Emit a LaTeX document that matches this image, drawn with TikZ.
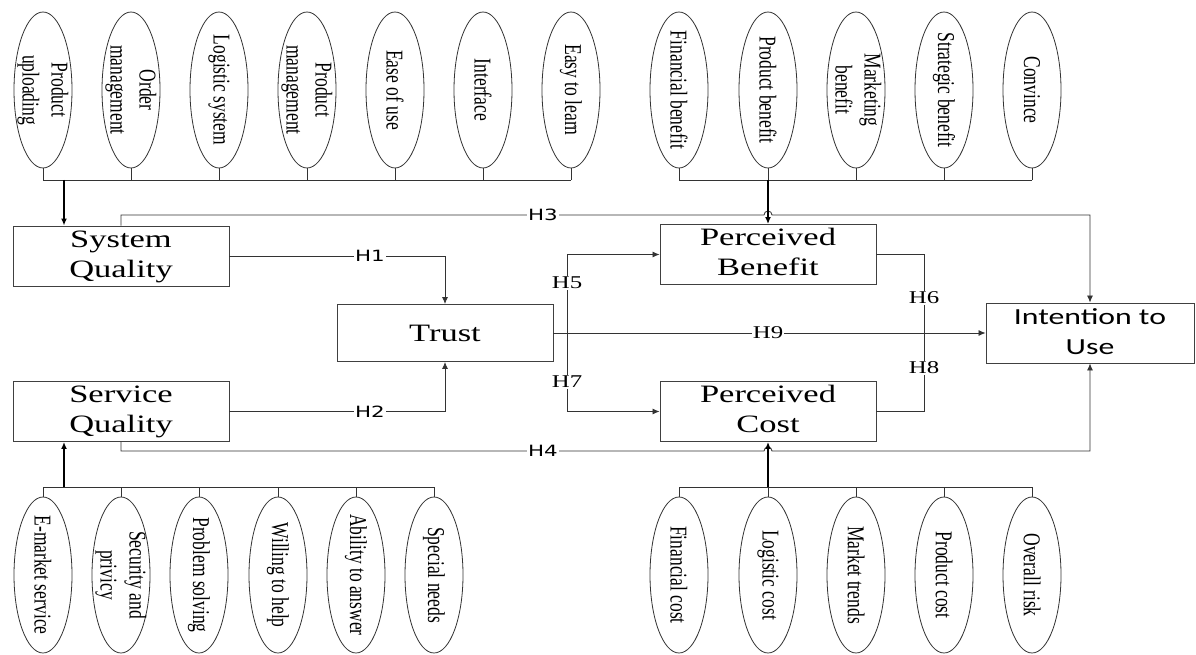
\documentclass[tikz,border=0pt]{standalone}
\usepackage{fontspec}
\setmainfont{Liberation Serif}
\newfontfamily\calfont{Carlito}
\newfontfamily\dvfont{DejaVu Sans}
\usetikzlibrary{shapes.geometric,arrows.meta,calc}
\newcommand\sx[1]{\scalebox{1.38}[1]{#1}}
\newcommand\sy[1]{\scalebox{1}[1.38]{#1}}
\newcommand\twol[2]{\begin{tabular}{@{}c@{}}#1\\#2\end{tabular}}
\begin{document}
\begin{tikzpicture}[x=1pt,y=-1pt,
 ell/.style={draw=black!80, line width=0.8pt, ellipse, minimum width=58pt, minimum height=156pt, inner sep=0pt},
 etxt/.style={rotate=-90, inner sep=0pt, font=\fontsize{17.5}{21}\selectfont},
 box/.style={draw=black!75, line width=0.9pt, minimum width=216pt, minimum height=57pt, inner sep=0pt, font=\fontsize{25}{30}\selectfont},
 conn/.style={draw=black!80, line width=0.85pt},
 arr/.style={conn, -{Latex[length=7pt,width=6pt]}},
 barr/.style={draw=black, line width=1.4pt, -{Latex[length=7pt,width=6pt]}},
 hs/.style={fill=white, inner sep=1pt, font=\dvfont\fontsize{15.5}{17}\selectfont},
 hr/.style={fill=white, inner sep=1pt, font=\fontsize{18}{20}\selectfont},
]
\fill[white] (0,0) rectangle (1196,655);
\useasboundingbox (0,0) rectangle (1196,655);

% top ellipses (system quality and perceived benefit)
\foreach \n/\x/\t in {t1/43/{\twol{Product}{uploading}}, t2/131/{\twol{Order}{management}}, t3/219/{Logistic system}, t4/307/{\twol{Product}{management}}, t5/395/{Ease of use}, t6/483/{Interface}, t7/571/{Easy to learn},
  b1/679/{Financial benefit}, b2/768/{Product benefit}, b3/856/{\twol{Marketing}{benefit}}, b4/944/{Strategic benefit}, b5/1032/{Convince}}{
  \node[ell] (\n) at (\x,90) {};
  \node[etxt] (\n txt) at (\n.center) {\sy{\t}};
}
% bottom ellipses
\foreach \n/\x/\t in {s1/43/{E-market service}, s2/121/{\twol{Security and}{privicy}}, s3/199/{Problem solving}, s4/278/{Willing to help}, s5/356/{Ability to answer}, s6/434/{Special needs},
  c1/679/{Financial cost}, c2/768/{Logistic cost}, c3/856/{Market trends}, c4/944/{Product cost}, c5/1032/{Overall risk}}{
  \node[ell] (\n) at (\x,575) {};
  \node[etxt] (\n txt) at (\n.center) {\sy{\t}};
}

% boxes
\node[box] (sq) at (121,256) {\sx{\twol{System}{Quality}}};
\node[box] (svq) at (121,411.5) {\sx{\twol{Service}{Quality}}};
\node[box] (trust) at (445,333) {\sx{Trust}};
\node[box] (pb) at (768,254.5) {\sx{\twol{Perceived}{Benefit}}};
\node[box] (pc) at (768,411.5) {\sx{\twol{Perceived}{Cost}}};
\node[box, minimum width=208pt, minimum height=58pt, font=\calfont\fontsize{23}{30}\selectfont] (itu) at (1090,333) {\sx{\twol{Intention to}{Use}}};

% buses
\coordinate (busT) at (0,180);
\coordinate (busB) at (0,487);
\foreach \n in {t1,t2,t3,t4,t5,t6,t7,b1,b2,b3,b4,b5}{
  \draw[conn] (\n.south) -- (\n.south |- busT);
}
\foreach \n in {s1,s2,s3,s4,s5,s6,c1,c2,c3,c4,c5}{
  \draw[conn] (\n.north) -- (\n.north |- busB);
}
\draw[conn] (t1.south |- busT) -- (t7.south |- busT);
\draw[conn] (b1.south |- busT) -- (b5.south |- busT);
\draw[conn] (s1.north |- busB) -- (s6.north |- busB);
\draw[conn] (c1.north |- busB) -- (c5.north |- busB);

% H3 and H4 (with hops)
\coordinate (h3a) at (764,215);
\coordinate (h3) at (1090,215);
\draw[arr] (sq.north) |- (h3a) arc[start angle=180, end angle=0, radius=4pt] -- (h3) -- (itu.north);
\coordinate (h4a) at (764,451);
\coordinate (h4) at (1090,451);
\draw[arr] (svq.south) |- (h4a) arc[start angle=180, end angle=0, radius=4pt] -- (h4) -- (itu.south);

% thick arrows from buses
\coordinate (aT) at (64,180);
\coordinate (aB) at (64,487);
\draw[barr] (aT) -- (aT |- sq.north);
\draw[barr] (aB) -- (aB |- svq.south);
\draw[barr] (b2.south |- busT) -- (pb.north);
\draw[barr] (c2.north |- busB) -- (pc.south);

% H1, H2
\draw[arr] (sq.east) -| (trust.north);
\draw[arr] (svq.east) -| (trust.south);

% trust junction
\coordinate (j) at (567,333);
\draw[conn] (trust.east) -- (j);
\draw[arr] (j) |- (pb.west);
\draw[arr] (j) |- (pc.west);
\draw[arr] (j) -- (itu.west);

% H6/H8
\coordinate (k) at (924,333);
\draw[conn] (pb.east) -| (k);
\draw[conn] (pc.east) -| (k);

% labels
\node[hs] (lh1) at (370,256) {\sx{H1}};
\node[hs] (lh2) at (370,411.5) {\sx{H2}};
\node[hs] (lh3) at (543,215) {\sx{H3}};
\node[hs] (lh4) at (543,451) {\sx{H4}};
\node[hr] (lh5) at (567,283) {\sx{H5}};
\node[hr] (lh7) at (567,382) {\sx{H7}};
\node[hr] (lh6) at (924,298) {\sx{H6}};
\node[hr] (lh8) at (924,368) {\sx{H8}};
\node[hr] (lh9) at (768,333) {\sx{H9}};
\end{tikzpicture}
\end{document}
